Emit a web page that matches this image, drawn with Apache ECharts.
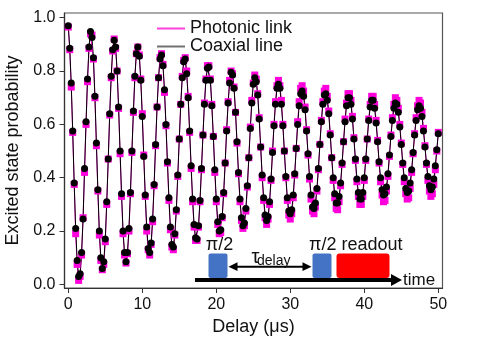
<!DOCTYPE html>
<html>
<head>
<meta charset="utf-8">
<script src="https://cdn.jsdelivr.net/npm/echarts@6/dist/echarts.min.js"></script>
<style>
  html, body { margin: 0; padding: 0; background: #fff; }
  #chart { width: 480px; height: 337px; }
</style>
</head>
<body>
<div id="chart"></div>
<script>
// Ramsey delay sweep (µs)
const delay = [
  0,0.2,0.4,0.6,0.8,1,1.2,1.4,1.6,1.8,2,2.2,2.4,2.6,2.8,3,
  3.2,3.4,3.6,3.8,4,4.2,4.4,4.6,4.8,5,5.2,5.4,5.6,5.8,6,6.2,
  6.4,6.6,6.8,7,7.2,7.4,7.6,7.8,8,8.2,8.4,8.6,8.8,9,9.2,9.4,
  9.6,9.8,10,10.2,10.4,10.6,10.8,11,11.2,11.4,11.6,11.8,12,12.2,12.4,12.6,
  12.8,13,13.2,13.4,13.6,13.8,14,14.2,14.4,14.6,14.8,15,15.2,15.4,15.6,15.8,
  16,16.2,16.4,16.6,16.8,17,17.2,17.4,17.6,17.8,18,18.2,18.4,18.6,18.8,19,
  19.2,19.4,19.6,19.8,20,20.2,20.4,20.6,20.8,21,21.2,21.4,21.6,21.8,22,22.2,
  22.4,22.6,22.8,23,23.2,23.4,23.6,23.8,24,24.2,24.4,24.6,24.8,25,25.2,25.4,
  25.6,25.8,26,26.2,26.4,26.6,26.8,27,27.2,27.4,27.6,27.8,28,28.2,28.4,28.6,
  28.8,29,29.2,29.4,29.6,29.8,30,30.2,30.4,30.6,30.8,31,31.2,31.4,31.6,31.8,
  32,32.2,32.4,32.6,32.8,33,33.2,33.4,33.6,33.8,34,34.2,34.4,34.6,34.8,35,
  35.2,35.4,35.6,35.8,36,36.2,36.4,36.6,36.8,37,37.2,37.4,37.6,37.8,38,38.2,
  38.4,38.6,38.8,39,39.2,39.4,39.6,39.8,40,40.2,40.4,40.6,40.8,41,41.2,41.4,
  41.6,41.8,42,42.2,42.4,42.6,42.8,43,43.2,43.4,43.6,43.8,44,44.2,44.4,44.6,
  44.8,45,45.2,45.4,45.6,45.8,46,46.2,46.4,46.6,46.8,47,47.2,47.4,47.6,47.8,
  48,48.2,48.4,48.6,48.8,49,49.2,49.4,49.6,49.8,50
];

// Excited state probability measured through the photonic link
const photonic = [
  0.965,0.88,0.74,0.57,0.375,0.19,0.075,0.015,0.03,0.11,0.25,0.42,0.6,0.76,0.885,0.94,
  0.935,0.845,0.7,0.52,0.35,0.185,0.09,0.055,0.075,0.16,0.3,0.47,0.635,0.775,0.875,0.92,
  0.885,0.8,0.66,0.49,0.33,0.19,0.11,0.08,0.115,0.2,0.34,0.495,0.645,0.775,0.865,0.89,
  0.86,0.77,0.64,0.485,0.33,0.2,0.13,0.11,0.15,0.235,0.37,0.52,0.665,0.775,0.85,0.865,
  0.825,0.72,0.595,0.455,0.315,0.205,0.14,0.13,0.185,0.275,0.405,0.545,0.675,0.78,0.84,0.85,
  0.8,0.705,0.57,0.435,0.31,0.215,0.165,0.165,0.215,0.31,0.43,0.56,0.68,0.77,0.82,0.82,
  0.77,0.675,0.555,0.42,0.31,0.225,0.19,0.195,0.25,0.34,0.455,0.58,0.685,0.765,0.8,0.79,
  0.74,0.645,0.53,0.415,0.31,0.24,0.21,0.22,0.275,0.365,0.475,0.59,0.69,0.755,0.785,0.77,
  0.715,0.625,0.515,0.4,0.315,0.25,0.225,0.245,0.3,0.39,0.5,0.6,0.685,0.745,0.765,0.745,
  0.69,0.6,0.5,0.4,0.315,0.26,0.245,0.265,0.325,0.41,0.51,0.61,0.685,0.735,0.745,0.725,
  0.665,0.58,0.485,0.395,0.32,0.275,0.265,0.29,0.35,0.43,0.525,0.615,0.685,0.725,0.735,0.705,
  0.65,0.565,0.475,0.39,0.325,0.285,0.28,0.31,0.37,0.45,0.535,0.62,0.68,0.715,0.715,0.69,
  0.63,0.55,0.465,0.385,0.33,0.3,0.3,0.33,0.39,0.465,0.545,0.62,0.675,0.705,0.705,0.675,
  0.615,0.54,0.455,0.385,0.335,0.31,0.315,0.35,0.405,0.48,0.56,0.625,0.675,0.7,0.69,0.66,
  0.6,0.53,0.45,0.385,0.34,0.32,0.325,0.36,0.42,0.49,0.565,0.625,0.67,0.69,0.68,0.645,
  0.585,0.52,0.45,0.39,0.35,0.33,0.34,0.375,0.43,0.5,0.57
];

// Excited state probability measured through the coaxial line
const coaxial = [
  0.97,0.885,0.755,0.575,0.38,0.21,0.09,0.03,0.04,0.12,0.245,0.435,0.61,0.77,0.89,0.948,
  0.926,0.85,0.705,0.53,0.355,0.2,0.1,0.06,0.085,0.17,0.31,0.47,0.64,0.78,0.88,0.915,
  0.89,0.8,0.665,0.5,0.34,0.2,0.12,0.085,0.12,0.21,0.345,0.5,0.65,0.78,0.865,0.89,
  0.855,0.765,0.63,0.48,0.335,0.215,0.135,0.12,0.155,0.245,0.375,0.525,0.665,0.775,0.845,0.86,
  0.82,0.73,0.6,0.46,0.325,0.215,0.15,0.14,0.19,0.28,0.41,0.545,0.675,0.775,0.835,0.845,
  0.79,0.7,0.575,0.445,0.32,0.225,0.175,0.17,0.22,0.315,0.435,0.56,0.675,0.765,0.81,0.815,
  0.765,0.67,0.555,0.43,0.32,0.235,0.2,0.205,0.255,0.345,0.455,0.575,0.68,0.755,0.795,0.785,
  0.735,0.645,0.535,0.42,0.32,0.25,0.22,0.23,0.285,0.37,0.475,0.585,0.68,0.75,0.775,0.76,
  0.71,0.62,0.515,0.41,0.325,0.26,0.24,0.255,0.31,0.395,0.495,0.595,0.675,0.735,0.75,0.735,
  0.675,0.595,0.5,0.405,0.325,0.275,0.265,0.28,0.335,0.415,0.51,0.6,0.67,0.715,0.725,0.705,
  0.655,0.575,0.49,0.405,0.335,0.29,0.285,0.305,0.36,0.435,0.525,0.61,0.675,0.71,0.715,0.69,
  0.64,0.56,0.475,0.4,0.34,0.305,0.305,0.33,0.38,0.455,0.535,0.61,0.67,0.7,0.7,0.675,
  0.62,0.545,0.47,0.395,0.345,0.32,0.32,0.345,0.4,0.47,0.545,0.615,0.665,0.69,0.69,0.66,
  0.605,0.535,0.46,0.4,0.355,0.335,0.34,0.365,0.415,0.485,0.555,0.615,0.66,0.68,0.675,0.645,
  0.59,0.525,0.455,0.4,0.36,0.345,0.35,0.38,0.43,0.495,0.56,0.615,0.655,0.67,0.66,0.63,
  0.575,0.515,0.455,0.405,0.37,0.355,0.365,0.395,0.445,0.505,0.565
];

const xTicks = [0, 10, 20, 30, 40, 50];
const yTicks = [0, 0.2, 0.4, 0.6, 0.8, 1.0];

const FONT = '"Liberation Sans", Arial, Helvetica, sans-serif';
const MAGENTA = '#ff00dc';

const chart = echarts.init(document.getElementById('chart'), null, { renderer: 'canvas' });

const pairs = ys => delay.map((t, i) => [t, ys[i]]);

chart.setOption({
  animation: false,
  backgroundColor: '#fff',
  grid: {
    left: 64.5, right: 37.5, top: 13, bottom: 49,
    containLabel: false, outerBoundsMode: 'none',
    show: true, borderColor: '#555', borderWidth: 1.2, backgroundColor: 'transparent'
  },
  legend: {
    orient: 'vertical',
    left: 152, top: 14.5,
    icon: 'rect', itemWidth: 28, itemHeight: 2, itemGap: 0,
    textStyle: { fontFamily: FONT, fontSize: 18, color: '#111', lineHeight: 17 },
    data: [
      { name: 'Photonic link', itemStyle: { color: '#ff40dd' } },
      { name: 'Coaxial line', itemStyle: { color: '#707070' } }
    ]
  },
  xAxis: {
    type: 'value', min: -0.51, max: 50.57,
    name: 'Delay (\u03bcs)', nameLocation: 'middle', nameGap: 29,
    nameTextStyle: { fontFamily: FONT, fontSize: 18, color: '#111' },
    axisLine: { show: true, onZero: false, lineStyle: { color: '#333', width: 1.2 } },
    axisTick: { show: true, length: 5, customValues: xTicks, lineStyle: { color: '#333' } },
    axisLabel: { customValues: xTicks, fontFamily: FONT, fontSize: 16, color: '#111', margin: 9 },
    splitLine: { show: false }
  },
  yAxis: {
    type: 'value', min: -0.0135, max: 1.0176,
    name: 'Excited state probability', nameLocation: 'middle', nameGap: 42,
    nameTextStyle: { fontFamily: FONT, fontSize: 18, color: '#111' },
    axisLine: { show: true, onZero: false, lineStyle: { color: '#333', width: 1.2 } },
    axisTick: { show: true, length: 5, customValues: yTicks, lineStyle: { color: '#333' } },
    axisLabel: {
      customValues: yTicks, fontFamily: FONT, fontSize: 16, color: '#111', margin: 9,
      formatter: v => v.toFixed(1)
    },
    splitLine: { show: false }
  },
  series: [
    {
      name: 'Photonic link', type: 'line', data: pairs(photonic),
      symbol: 'rect', symbolSize: 7, showAllSymbol: true,
      itemStyle: { color: MAGENTA },
      lineStyle: { color: MAGENTA, width: 1 }
    },
    {
      name: 'Coaxial line', type: 'line', data: pairs(coaxial),
      symbol: 'circle', symbolSize: 7, showAllSymbol: true,
      itemStyle: { color: '#000' },
      lineStyle: { color: '#000', width: 1 }
    }
  ],
  graphic: [
    // pulse sequence sketch: time axis
    { type: 'line', shape: { x1: 195, y1: 280, x2: 393, y2: 280 }, style: { stroke: '#000', lineWidth: 4 }, z: 10 },
    { type: 'polygon', shape: { points: [[391, 274], [402, 280], [391, 286]] }, style: { fill: '#000' }, z: 10 },
    { type: 'text', x: 403, y: 280, style: { text: 'time', font: '17px ' + FONT, fill: '#111', textVerticalAlign: 'middle' }, z: 10 },
    // pulses
    { type: 'rect', shape: { x: 208.5, y: 253.5, width: 19, height: 24.5, r: 2 }, style: { fill: '#4472c4' }, z: 10 },
    { type: 'rect', shape: { x: 312.5, y: 253.5, width: 19, height: 24.5, r: 2 }, style: { fill: '#4472c4' }, z: 10 },
    { type: 'rect', shape: { x: 336.5, y: 253.5, width: 53, height: 24.5, r: 3 }, style: { fill: '#ff0000' }, z: 10 },
    { type: 'text', x: 219.5, y: 245, style: { text: '\u03c0/2', font: '18px ' + FONT, fill: '#111', textAlign: 'center', textVerticalAlign: 'middle' }, z: 10 },
    { type: 'text', x: 309, y: 245, style: { text: '\u03c0/2 readout', font: '18px ' + FONT, fill: '#111', textVerticalAlign: 'middle' }, z: 10 },
    // free evolution interval
    { type: 'line', shape: { x1: 234, y1: 266.7, x2: 306, y2: 266.7 }, style: { stroke: '#000', lineWidth: 2 }, z: 10 },
    { type: 'polygon', shape: { points: [[228.5, 266.7], [237.5, 262.3], [237.5, 271.1]] }, style: { fill: '#000' }, z: 10 },
    { type: 'polygon', shape: { points: [[311.5, 266.7], [302.5, 262.3], [302.5, 271.1]] }, style: { fill: '#000' }, z: 10 },
    { type: 'text', x: 251.5, y: 257, style: { text: '\u03c4', font: '20px ' + FONT, fill: '#111', textVerticalAlign: 'middle' }, z: 10 },
    { type: 'text', x: 257, y: 261, style: { text: 'delay', font: '14px ' + FONT, fill: '#111', textVerticalAlign: 'middle' }, z: 10 }
  ]
});
</script>
</body>
</html>
